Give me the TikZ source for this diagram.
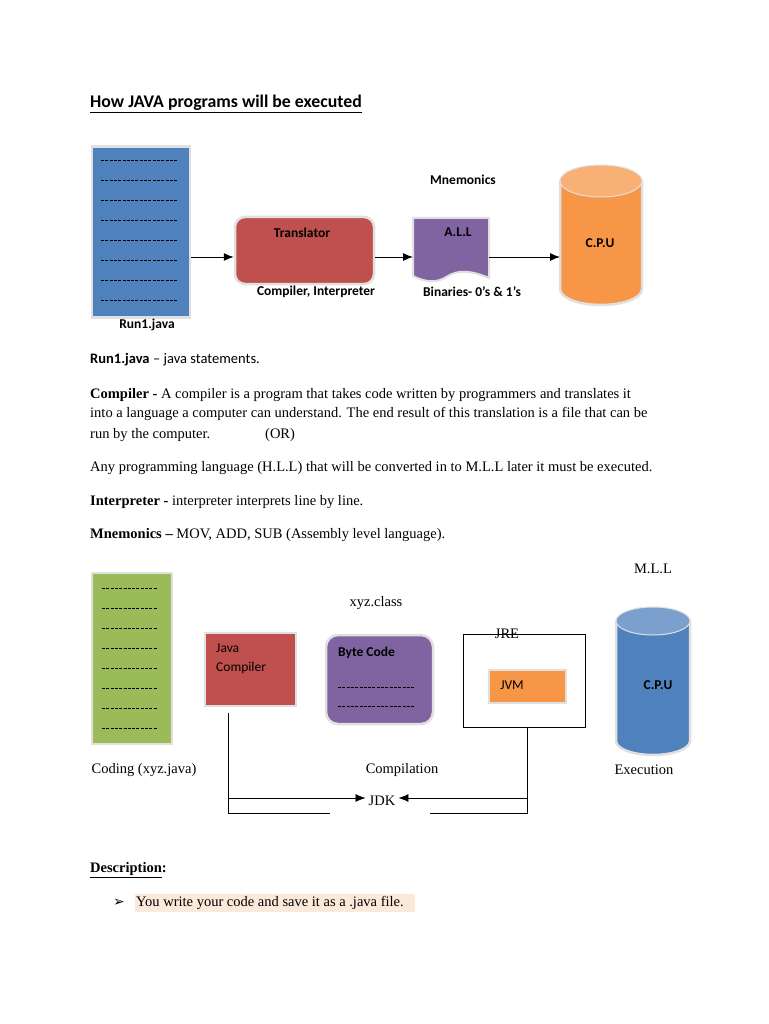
\documentclass[tikz,border=0pt]{standalone}
\usepackage{fontspec}
\setmainfont{Liberation Serif}
\newfontfamily\calfont{Carlito}
\newfontfamily\dvs{DejaVu Sans}
\usetikzlibrary{arrows.meta}
\definecolor{cblue}{HTML}{4F81BD}
\definecolor{cred}{HTML}{C0504D}
\definecolor{cpurp}{HTML}{8064A2}
\definecolor{corange}{HTML}{F79646}
\definecolor{cgreen}{HTML}{9BBB59}
\definecolor{hl}{HTML}{FBE9D9}
\tikzset{
  sh/.style={draw=black!12,line width=2.5pt},
  arr/.style={-{Latex[length=10pt,width=8pt]},line width=1pt},
  ln/.style={line width=0.6pt},
  dsh/.style={line width=0.5pt,dash pattern=on 3pt off 1.3pt},
  lab/.style={font=\calfont\bfseries\fontsize{13.5}{15}\selectfont,inner sep=0pt},
  labn/.style={font=\calfont\fontsize{13.5}{15}\selectfont,inner sep=0pt},
  body/.style={font=\fontsize{14.5}{20}\selectfont,inner sep=0pt,anchor=west},
}
\begin{document}
\begin{tikzpicture}[x=1pt,y=-1pt]
\useasboundingbox (0,0) rectangle (768,1024);
\fill[white] (0,0) rectangle (768,1024);
\node[anchor=west,inner sep=0pt,font=\calfont\bfseries\fontsize{17.8}{20}\selectfont] (title) at (90,104) {\underline{How JAVA programs will be executed}};
% top diagram
\node[sh,fill=cblue,minimum width=98,minimum height=171,inner sep=0pt] (src) at (141,232) {};
\foreach \y in {160,180,...,300} \draw[dsh] (101,\y) -- (178,\y);
\node[lab] (run) at (147,325) {Run1.java};
\node[sh,fill=cred,rounded corners=10pt,minimum width=139,minimum height=67] (tr) at (304.5,250.5) {};
\node[lab] at (302,233) {Translator};
\node[lab] at (316,292) {Compiler, Interpreter};
\filldraw[fill=cpurp,draw=black!12,line width=2pt] (413,218) -- (489,218) -- (489,278) .. controls (470,270) and (458,270) .. (448,276) .. controls (436,284) and (425,282) .. (413,276) -- cycle;
\coordinate (allw) at (413,257); \coordinate (alle) at (489,257);
\node[lab] (all) at (458,232) {A.L.L};
\node[lab] at (463,180) {Mnemonics};
\node[lab] at (472,292) {Binaries- 0’s \& 1’s};
% cylinder 1
\filldraw[fill=corange,draw=black!12,line width=2.5pt] (560,181) -- (560,289) arc[start angle=180,end angle=0,x radius=41,y radius=16] -- (642,181) -- cycle;
\filldraw[fill=corange!75!white,draw=black!12,line width=1pt] (601,181) ellipse[x radius=41,y radius=16];
\coordinate (cpuw) at (560,257);
\node[lab] (cpu) at (600,243) {C.P.U};
\draw[arr] (src.east |- 0,257) -- (tr.west |- 0,257);
\draw[arr] (tr.east |- 0,257) -- (allw);
\draw[arr] (alle) -- (cpuw);
% text
\node[body] at (90,360) {{\calfont\bfseries Run1.java} {\calfont – java statements.}};
\node[body] at (90,395) {\textbf{Compiler -} A compiler is a program that takes code written by programmers and translates it};
\node[body] at (90,414) {into a language a computer can understand. The end result of this translation is a file that can be};
\node[body] at (90,435) {run by the computer.\hspace{55pt}(OR)};
\node[body] at (90,468) {Any programming language (H.L.L) that will be converted in to M.L.L later it must be executed.};
\node[body] at (90,502) {\textbf{Interpreter -} interpreter interprets line by line.};
\node[body] at (90,535) {\textbf{Mnemonics –} MOV, ADD, SUB (Assembly level language).};
\node[body,anchor=center] at (653,569) {M.L.L};
% bottom diagram
\node[sh,fill=cgreen,minimum width=80,minimum height=171,inner sep=0pt] (code) at (132,658.5) {};
\foreach \y in {588,608,...,730} \draw[dsh] (102,\y) -- (157,\y);
\node[body,anchor=center] at (144,770) {Coding (xyz.java)};
\node[body,anchor=center] at (376,603) {xyz.class};
\node[sh,fill=cred,minimum width=91,minimum height=73,inner sep=0pt] (jc) at (250.5,669.5) {};
\node[labn,anchor=west] at (216,648) {Java};
\node[labn,anchor=west] at (216,668) {Compiler};
\node[sh,fill=cpurp,rounded corners=12pt,minimum width=107,minimum height=89,inner sep=0pt] (bc) at (379.5,679.5) {};
\node[lab,anchor=west] at (338,653) {Byte Code};
\draw[dsh] (338,687) -- (415,687);
\draw[dsh] (338,706) -- (415,706);
\node[draw,ln,minimum width=122,minimum height=93,inner sep=0pt] (jre) at (524,680.5) {};
\node[body,anchor=center] at (507,634) {JRE};
\node[draw=black!12,line width=2pt,fill=corange,minimum width=77,minimum height=33,inner sep=0pt] (jvm) at (527.5,686.5) {};
\node[labn] at (512,685) {JVM};
% cylinder 2
\filldraw[fill=cblue,draw=black!12,line width=2.5pt] (616,621) -- (616,741) arc[start angle=180,end angle=0,x radius=37,y radius=14] -- (690,621) -- cycle;
\filldraw[fill=cblue!75!white,draw=black!12,line width=1pt] (653,621) ellipse[x radius=37,y radius=14];
\node[lab] (cpu2) at (658,685) {C.P.U};
\node[body,anchor=center] at (402,770) {Compilation};
\node[body,anchor=center] at (644,770) {Execution};
\node[body,anchor=center] (jdk) at (382,801) {JDK};
\coordinate (a1) at (228,713); \coordinate (a2) at (228,813); \coordinate (a3) at (330,813);
\coordinate (b1) at (527,727); \coordinate (b2) at (527,813); \coordinate (b3) at (430,813);
\draw[ln] (a1) -- (a2) -- (a3);
\draw[ln] (b1) -- (b2) -- (b3);
\draw[arr,line width=0.7pt] (228,798) -- ([xshift=-3pt]jdk.west |- 0,798);
\draw[arr,line width=0.7pt] (527,798) -- ([xshift=3pt]jdk.east |- 0,798);
\node[body] at (90,870) {\textbf{\underline{Description}:}};
\fill[hl] (135,894) rectangle (415,912);
\node[inner sep=0pt,font=\dvs\bfseries\fontsize{14}{14}\selectfont] at (119,903) {➢};
\node[body] at (136,903) {You write your code and save it as a .java file.};
\end{tikzpicture}
\end{document}
